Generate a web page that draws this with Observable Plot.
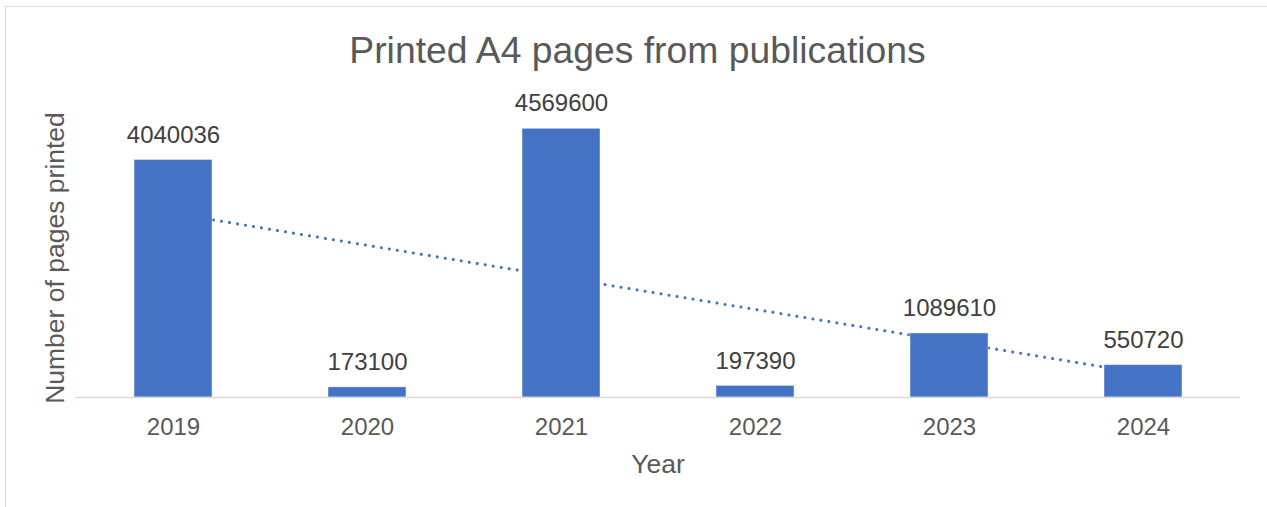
<!DOCTYPE html>
<html>
<head>
<meta charset="utf-8">
<script src="https://cdn.jsdelivr.net/npm/d3@7"></script>
<script src="https://cdn.jsdelivr.net/npm/@observablehq/plot@0.6"></script>
<style>
  html, body { margin: 0; padding: 0; background: #fff; overflow: hidden; width: 1267px; height: 507px; }
  #border { position: absolute; left: 5px; top: 6px; width: 1320px; height: 620px; border: 1.5px solid #d9d9d9; box-sizing: border-box; }
  #chart { position: absolute; left: 0; top: 0; }
  svg { font-family: "Liberation Sans", Arial, sans-serif; }
</style>
</head>
<body>
<div id="border"></div>
<div id="chart"></div>
<script>
const years = ["2019", "2020", "2021", "2022", "2023", "2024"];
const pages = [4040036, 173100, 4569600, 197390, 1089610, 550720];
const titleText = "Printed A4 pages from publications";
const xTitle = "Year";
const yTitle = "Number of pages printed";

const data = years.map((year, i) => ({year, pages: pages[i]}));

// Linear trendline (least squares over category index), like Excel
const idx = years.map((_, i) => i + 1);
const mx = d3.mean(idx), my = d3.mean(pages);
const slope = d3.sum(idx, (x, i) => (x - mx) * (pages[i] - my)) / d3.sum(idx, x => (x - mx) ** 2);
const intercept = my - slope * mx;
const trend = years.map((year, i) => ({year, value: intercept + slope * idx[i]}));

const blue = "#4472C4";

const chart = Plot.plot({
  width: 1267,
  height: 507,
  marginLeft: 75,
  marginRight: 27,
  marginTop: 103,
  marginBottom: 110,
  style: {fontFamily: "'Liberation Sans', Arial, sans-serif", background: "transparent"},
  x: {domain: years, paddingInner: 0.6, paddingOuter: 0.3, label: null},
  y: {domain: [0, 5000000], axis: null},
  marks: [
    Plot.line(trend, {x: "year", y: "value", stroke: blue, strokeWidth: 3, strokeDasharray: "0.1 8", strokeLinecap: "round"}),
    Plot.barY(data, {x: "year", y: "pages", fill: blue, stroke: "#ffffff", strokeOpacity: 0.45, strokeWidth: 1}),
    Plot.ruleY([0], {stroke: "#d9d9d9", strokeWidth: 1.5}),
    Plot.axisX({tickSize: 0, tickPadding: 20, fontSize: 24, color: "#595959", label: null}),
    Plot.text(data, {x: "year", y: "pages", text: d => String(d.pages), dy: -25, fontSize: 24, fill: "#404040"}),
    Plot.text([titleText], {frameAnchor: "top", textAnchor: "middle", lineAnchor: "middle", dx: -20.5, dy: -52, fontSize: 37.3, fill: "#595959"}),
    Plot.text([xTitle], {frameAnchor: "bottom", textAnchor: "middle", lineAnchor: "middle", dy: 67, fontSize: 26.5, fill: "#595959"}),
    Plot.text([yTitle], {frameAnchor: "left", textAnchor: "middle", lineAnchor: "middle", rotate: -90, dx: -19.5, dy: 7.5, fontSize: 26.5, fill: "#595959"})
  ]
});
document.getElementById("chart").appendChild(chart);
</script>
</body>
</html>
